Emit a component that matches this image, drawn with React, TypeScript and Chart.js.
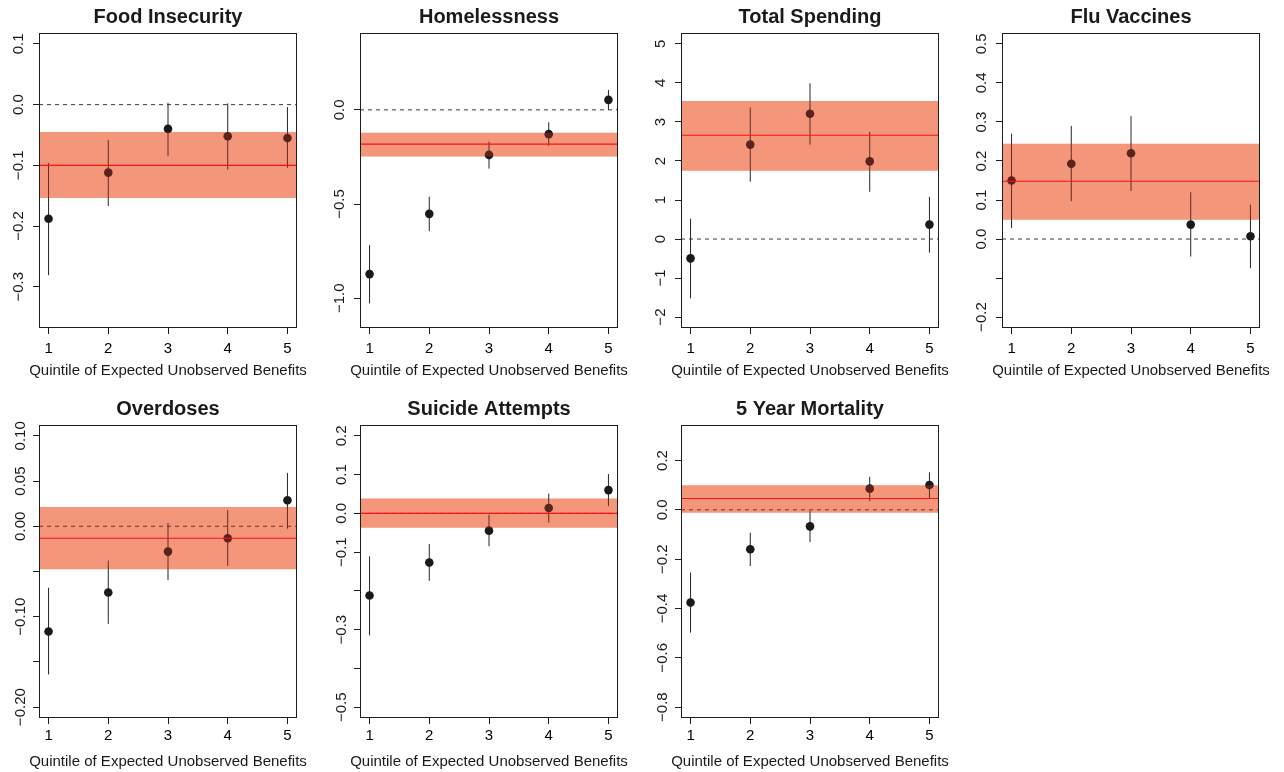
import React, { useEffect, useRef } from "react";
import { Chart, registerables } from "chart.js";

Chart.register(...registerables);

// ---------------- DATA ----------------
const QUINTILES = [1, 2, 3, 4, 5];
const QUINTILE_LABELS = ["1", "2", "3", "4", "5"];
const X_LIM = [1, 5];
const X_AXIS_TITLE = "Quintile of Expected Unobserved Benefits";

const TITLES = [
  "Food Insecurity",
  "Homelessness",
  "Total Spending",
  "Flu Vaccines",
  "Overdoses",
  "Suicide Attempts",
  "5 Year Mortality",
];

// point estimates and 95% CI by quintile
const foodEst = [-0.188, -0.112, -0.040, -0.052, -0.055];
const foodLo = [-0.281, -0.167, -0.085, -0.107, -0.104];
const foodHi = [-0.096, -0.058, 0.003, 0.002, -0.004];

const homeEst = [-0.872, -0.552, -0.239, -0.129, 0.053];
const homeLo = [-1.027, -0.644, -0.312, -0.191, 0.0];
const homeHi = [-0.718, -0.461, -0.169, -0.066, 0.106];

const spendEst = [-0.495, 2.42, 3.21, 1.99, 0.37];
const spendLo = [-1.52, 1.47, 2.42, 1.21, -0.35];
const spendHi = [0.52, 3.37, 3.99, 2.75, 1.08];

const fluEst = [0.15, 0.193, 0.22, 0.037, 0.007];
const fluLo = [0.028, 0.097, 0.123, -0.045, -0.075];
const fluHi = [0.27, 0.29, 0.315, 0.12, 0.088];

const odEst = [-0.1163, -0.0733, -0.028, -0.0132, 0.0287];
const odLo = [-0.1638, -0.108, -0.0596, -0.0438, -0.0026];
const odHi = [-0.068, -0.038, 0.0037, 0.0177, 0.059];

const suiEst = [-0.212, -0.1266, -0.0446, 0.0137, 0.06];
const suiLo = [-0.315, -0.174, -0.0846, -0.024, 0.0187];
const suiHi = [-0.111, -0.079, -0.0034, 0.051, 0.1015];

const mortEst = [-0.376, -0.16, -0.067, 0.086, 0.1007];
const mortLo = [-0.498, -0.228, -0.131, 0.035, 0.047];
const mortHi = [-0.254, -0.093, -0.003, 0.134, 0.152];

// pooled estimate (band) per panel
const pooledEst = [-0.1, -0.182, 2.66, 0.148, -0.0132, 0.0, 0.0459];
const pooledLo = [-0.154, -0.248, 1.75, 0.0495, -0.0475, -0.0369, -0.012];
const pooledHi = [-0.045, -0.121, 3.54, 0.244, 0.0213, 0.0385, 0.0995];

// y limits (before R's 4% expansion)
const yLimLow = [-0.35, -1.1, -2, -0.2, -0.2, -0.5, -0.8];
const yLimHigh = [0.1, 0.35, 5, 0.5, 0.1, 0.2, 0.3];

// y ticks and their labels
const foodTicks = [-0.3, -0.2, -0.1, 0, 0.1];
const foodTickLabels = ["\u22120.3", "\u22120.2", "\u22120.1", "0.0", "0.1"];
const homeTicks = [-1.0, -0.5, 0.0];
const homeTickLabels = ["\u22121.0", "\u22120.5", "0.0"];
const spendTicks = [-2, -1, 0, 1, 2, 3, 4, 5];
const spendTickLabels = ["\u22122", "\u22121", "0", "1", "2", "3", "4", "5"];
const fluTicks = [-0.2, -0.1, 0, 0.1, 0.2, 0.3, 0.4, 0.5];
const fluTickLabels = ["\u22120.2", "", "0.0", "0.1", "0.2", "0.3", "0.4", "0.5"];
const odTicks = [-0.2, -0.15, -0.1, -0.05, 0, 0.05, 0.1];
const odTickLabels = ["\u22120.20", "", "\u22120.10", "", "0.00", "0.05", "0.10"];
const suiTicks = [-0.5, -0.4, -0.3, -0.2, -0.1, 0, 0.1, 0.2];
const suiTickLabels = ["\u22120.5", "", "\u22120.3", "", "\u22120.1", "0.0", "0.1", "0.2"];
const mortTicks = [-0.8, -0.6, -0.4, -0.2, 0, 0.2];
const mortTickLabels = ["\u22120.8", "\u22120.6", "\u22120.4", "\u22120.2", "0.0", "0.2"];

const ESTS = [foodEst, homeEst, spendEst, fluEst, odEst, suiEst, mortEst];
const LOS = [foodLo, homeLo, spendLo, fluLo, odLo, suiLo, mortLo];
const HIS = [foodHi, homeHi, spendHi, fluHi, odHi, suiHi, mortHi];
const YTICKS = [foodTicks, homeTicks, spendTicks, fluTicks, odTicks, suiTicks, mortTicks];
const YTICKLABELS = [
  foodTickLabels,
  homeTickLabels,
  spendTickLabels,
  fluTickLabels,
  odTickLabels,
  suiTickLabels,
  mortTickLabels,
];

// ---------------- LAYOUT / STYLE ----------------
const FONT = "'Liberation Sans', Arial, Helvetica, sans-serif";
const BAND_MULTIPLY = "rgb(244, 184, 146)";
const BAND_OVER = "rgba(243, 73, 67, 0.3)";
const POINT_COLOR = "#1a1a1a";
const CI_COLOR = "#262626";
const AXIS_COLOR = "#1e1e1e";
const TEXT_COLOR = "#1a1a1a";

const CANVAS_W = 321;
const CANVAS_H = 386;
const BOX_LEFT = 39;
const BOX_RIGHT = 297;
const ROWS = [
  { top: 0, boxTop: 33, boxBottom: 328, titleY: 23, xTickY: 352.5, xTitleY: 375, yLabelOff: 16 },
  { top: 386, boxTop: 39, boxBottom: 332, titleY: 28.5, xTickY: 354, xTitleY: 380, yLabelOff: 14 },
];

// dataset indices
const DS_BAND_MUL_HI = 3;
const DS_BAND_MUL_LO = 4;

function expand(lo: number, hi: number) {
  const d = (hi - lo) * 0.04;
  return [lo - d, hi + d];
}

const blendPlugin = {
  id: "rblend",
  afterDatasetDraw(chart: any, args: any) {
    if (args.index === DS_BAND_MUL_LO) chart.ctx.globalCompositeOperation = "multiply";
    else if (args.index === DS_BAND_MUL_HI) chart.ctx.globalCompositeOperation = "source-over";
  },
};

const textPlugin = {
  id: "rtext",
  afterDraw(chart: any) {
    const o = chart.options.plugins.rtext;
    const ctx = chart.ctx;
    const { left, right, top, bottom } = chart.chartArea;
    const xs = chart.scales.x;
    const ys = chart.scales.y;
    const row = o.row;
    ctx.save();
    ctx.globalCompositeOperation = "source-over";
    // box
    ctx.strokeStyle = AXIS_COLOR;
    ctx.lineWidth = 1;
    ctx.strokeRect(
      Math.round(left) + 0.5,
      Math.round(top) + 0.5,
      Math.round(right - left) - 1,
      Math.round(bottom - top) - 1
    );
    ctx.fillStyle = TEXT_COLOR;
    // title
    ctx.font = `bold 20px ${FONT}`;
    ctx.textAlign = "center";
    ctx.textBaseline = "alphabetic";
    ctx.fillText(o.title, (left + right) / 2, row.titleY);
    // x tick labels
    ctx.font = `15px ${FONT}`;
    ctx.fillStyle = "#000000";
    QUINTILES.forEach((q, i) => {
      ctx.fillText(QUINTILE_LABELS[i], xs.getPixelForValue(q), row.xTickY);
    });
    ctx.fillStyle = TEXT_COLOR;
    // x axis title
    ctx.fillText(X_AXIS_TITLE, (left + right) / 2, row.xTitleY);
    // y tick labels (rotated as in R)
    o.yTicks.forEach((v: number, i: number) => {
      const lab = o.yLabels[i];
      if (!lab) return;
      const py = ys.getPixelForValue(v);
      ctx.save();
      ctx.translate(left - row.yLabelOff, py);
      ctx.rotate(-Math.PI / 2);
      ctx.textAlign = "center";
      ctx.textBaseline = "alphabetic";
      ctx.fillText(lab, 0, 0);
      ctx.restore();
    });
    ctx.restore();
  },
};

function Panel({ idx }: { idx: number }) {
  const ref = useRef<HTMLCanvasElement | null>(null);
  const row = ROWS[idx < 4 ? 0 : 1];
  const col = idx % 4;

  useEffect(() => {
    if (!ref.current) return;
    const [xMin, xMax] = expand(X_LIM[0], X_LIM[1]);
    const [yMin, yMax] = expand(yLimLow[idx], yLimHigh[idx]);
    const est = ESTS[idx];
    const lo = LOS[idx];
    const hi = HIS[idx];
    const ciData: any[] = [];
    QUINTILES.forEach((q, i) => {
      ciData.push({ x: q, y: lo[i] }, { x: q, y: hi[i] }, { x: q, y: null });
    });
    const flat = (y: number) => [
      { x: xMin, y },
      { x: xMax, y },
    ];
    const lineBase = { type: "line", pointRadius: 0, tension: 0, fill: false };
    const hidden = { borderColor: "transparent", borderWidth: 0 };
    const chart = new Chart(ref.current, {
      type: "scatter",
      data: {
        datasets: [
          // 0: pooled estimate line
          { ...lineBase, data: flat(pooledEst[idx]), borderColor: "#ff1010", borderWidth: 1.1 },
          // 1-2: band (normal blend)
          { ...lineBase, ...hidden, data: flat(pooledHi[idx]), fill: "+1", backgroundColor: BAND_OVER },
          { ...lineBase, ...hidden, data: flat(pooledLo[idx]) },
          // 3-4: band (multiply blend)
          { ...lineBase, ...hidden, data: flat(pooledHi[idx]), fill: "+1", backgroundColor: BAND_MULTIPLY },
          { ...lineBase, ...hidden, data: flat(pooledLo[idx]) },
          // 5: quintile point estimates
          {
            type: "scatter",
            data: QUINTILES.map((q, i) => ({ x: q, y: est[i] })),
            pointRadius: 4.3,
            pointBackgroundColor: POINT_COLOR,
            pointBorderWidth: 0,
            borderColor: "transparent",
          },
          // 6: confidence intervals
          { ...lineBase, data: ciData, borderColor: CI_COLOR, borderWidth: 1, spanGaps: false },
          // 7: zero reference line
          { ...lineBase, data: flat(0), borderColor: "#3a3a3a", borderWidth: 1, borderDash: [4, 4] },
        ] as any,
      },
      options: {
        animation: false,
        responsive: false,
        devicePixelRatio: 1,
        events: [],
        layout: {
          padding: { top: row.boxTop, left: 0, right: CANVAS_W - BOX_RIGHT, bottom: 0 },
        },
        plugins: {
          legend: { display: false },
          tooltip: { enabled: false },
          title: { display: false },
          rtext: { title: TITLES[idx], row, yTicks: YTICKS[idx], yLabels: YTICKLABELS[idx] },
        } as any,
        scales: {
          x: {
            type: "linear",
            min: xMin,
            max: xMax,
            ticks: { display: false },
            border: { display: false },
            grid: { drawOnChartArea: false, drawTicks: true, tickLength: 6, color: AXIS_COLOR, lineWidth: 1 },
            afterBuildTicks: (s: any) => {
              s.ticks = QUINTILES.map((v) => ({ value: v }));
            },
            afterFit: (s: any) => {
              s.height = CANVAS_H - row.boxBottom;
            },
          },
          y: {
            type: "linear",
            min: yMin,
            max: yMax,
            ticks: { display: false },
            border: { display: false },
            grid: { drawOnChartArea: false, drawTicks: true, tickLength: 6, color: AXIS_COLOR, lineWidth: 1 },
            afterBuildTicks: (s: any) => {
              s.ticks = YTICKS[idx].map((v) => ({ value: v }));
            },
            afterFit: (s: any) => {
              s.width = BOX_LEFT;
            },
          },
        } as any,
      },
      plugins: [blendPlugin, textPlugin],
    } as any);
    return () => chart.destroy();
  }, [idx]);

  return (
    <canvas
      ref={ref}
      width={CANVAS_W}
      height={CANVAS_H}
      style={{
        position: "absolute",
        left: col * CANVAS_W,
        top: row.top,
        width: CANVAS_W,
        height: CANVAS_H,
      }}
    />
  );
}

export default function App() {
  return (
    <div
      style={{
        position: "absolute",
        left: 0,
        top: 0,
        width: 1284,
        height: 772,
        background: "#ffffff",
        overflow: "hidden",
      }}
    >
      {TITLES.map((_, i) => (
        <Panel key={i} idx={i} />
      ))}
    </div>
  );
}
